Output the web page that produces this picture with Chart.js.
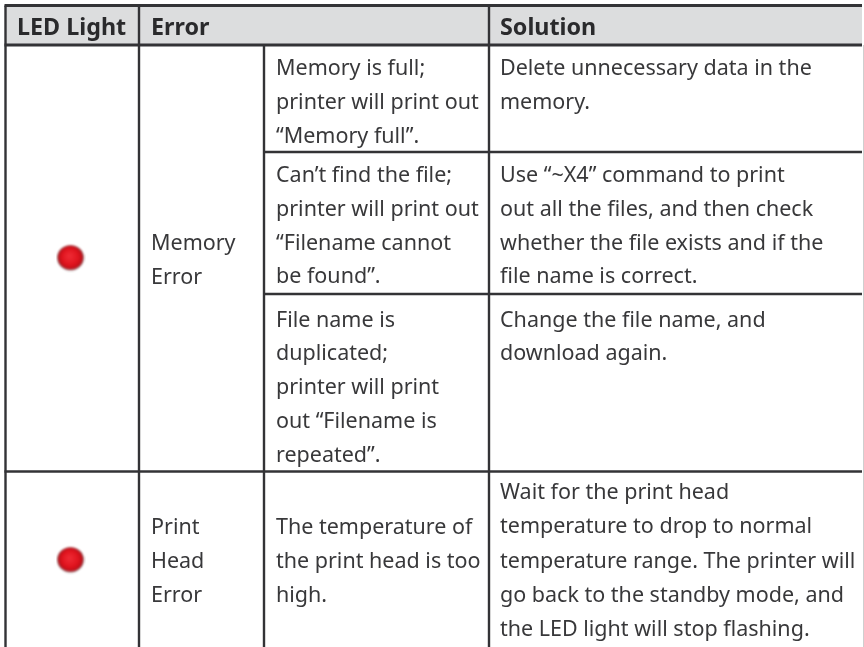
<!DOCTYPE html>
<html><head><meta charset="utf-8">
<style>html,body{margin:0;padding:0;background:#fff;overflow:hidden}#wrap{position:relative;width:864px;height:647px}canvas{display:block}</style>
<script src="https://cdn.jsdelivr.net/npm/chart.js@4"></script></head>
<body><div id="wrap"><canvas id="c" width="864" height="647"></canvas></div>
<script>
const headers = ["LED Light", "Error", "Solution"];
const errorNames = [["Memory", "Error"], ["Print", "Head", "Error"]];
const causes = [
  ["Memory is full;", "printer will print out", "\u201CMemory full\u201D."],
  ["Can\u2019t find the file;", "printer will print out", "\u201CFilename cannot", "be found\u201D."],
  ["File name is", "duplicated;", "printer will print", "out \u201CFilename is", "repeated\u201D."],
  ["The temperature of", "the print head is too", "high."]
];
const solutions = [
  ["Delete unnecessary data in the", "memory."],
  ["Use \u201C~X4\u201D command to print", "out all the files, and then check", "whether the file exists and if the", "file name is correct."],
  ["Change the file name, and", "download again."],
  ["Wait for the print head", "temperature to drop to normal", "temperature range. The printer will", "go back to the standby mode, and", "the LED light will stop flashing."]
];
const ledX = [70.5, 70.5];
const ledY = [257.5, 559.5];
const colX = [5.5, 139, 264, 489];
const rowY = [5.5, 45];
const subRowY = [152, 294];
const lastRowY = 471.5;
const tableRight = 862, tableBottom = 647;
const baseFirst = { error: [250, 534], cause: [75, 182, 326.5, 534], solution: [75, 182, 326.5, 499] };
const headerBase = 35, lineGap = 33.8, wideGap = 34.3;
const textX = { led: 17, error: 151, cause: 276, solution: 500 };

function ledImage() {
  const s = 30, cv = document.createElement('canvas'); cv.width = cv.height = s;
  const g = cv.getContext('2d');
  g.filter = 'blur(0.9px)';
  g.fillStyle = 'rgba(70,50,50,0.5)';
  g.beginPath(); g.ellipse(15, 15.6, 13, 12.4, 0, 0, Math.PI * 2); g.fill();
  const r = g.createRadialGradient(14, 13.5, 1, 15, 15, 13);
  r.addColorStop(0, '#ee2a34'); r.addColorStop(0.6, '#e0141e'); r.addColorStop(0.88, '#c00e18'); r.addColorStop(1, '#8a0c12');
  g.fillStyle = r;
  g.beginPath(); g.ellipse(15, 15, 12.8, 12, 0, 0, Math.PI * 2); g.fill();
  return cv;
}
const seg = (x0, y0, x1, y1, w) => ({
  type: 'line', data: [{ x: x0, y: y0 }, { x: x1, y: y1 }],
  borderColor: '#333336', borderWidth: w, pointRadius: 0, borderCapStyle: 'butt', fill: false, order: 2
});
const datasets = [
  { type: 'line', data: [{ x: tableRight + 1.5, y: rowY[1] }, { x: tableRight + 1.5, y: tableBottom }], borderColor: '#cfcfcf', borderWidth: 1, pointRadius: 0, order: 3 },
  ...colX.map((x, i) => seg(x, i === 2 ? rowY[1] : rowY[0], x, tableBottom, 2.4)),
  seg(colX[0] - 1, rowY[0], tableRight, rowY[0], 2.8),
  seg(colX[0] - 1, rowY[1], tableRight, rowY[1], 2.8),
  ...subRowY.map(y => seg(colX[2], y, tableRight, y, 2.4)),
  seg(colX[0] - 1, lastRowY, tableRight, lastRowY, 2.4),
  { type: 'scatter', data: ledX.map((x, i) => ({ x, y: ledY[i] })), pointStyle: ledImage(), pointRadius: 15, order: 1 }
];
const tablePlugin = {
  id: 'tablePlugin',
  beforeDatasetsDraw(ch) {
    const { ctx, scales: { x, y } } = ch;
    ctx.save();
    ctx.fillStyle = '#dcddde';
    ctx.fillRect(x.getPixelForValue(colX[0]), y.getPixelForValue(rowY[0]), x.getPixelForValue(tableRight) - x.getPixelForValue(colX[0]), y.getPixelForValue(rowY[1]) - y.getPixelForValue(rowY[0]));
    ctx.restore();
  },
  afterDatasetsDraw(ch) {
    const { ctx, scales: { x, y } } = ch;
    const FONT = '"Noto Sans"';
    ctx.save();
    ctx.textBaseline = 'alphabetic'; ctx.textAlign = 'left';
    ctx.fillStyle = '#2a2a2c';
    ctx.font = `bold 23.3px ${FONT}`;
    [textX.led, textX.error, textX.solution].forEach((tx, i) => ctx.fillText(headers[i], x.getPixelForValue(tx), y.getPixelForValue(headerBase)));
    ctx.fillStyle = '#38383a';
    ctx.font = `21.5px ${FONT}`;
    const block = (lines, tx, b, gap) => lines.forEach((l, i) => ctx.fillText(l, x.getPixelForValue(tx), y.getPixelForValue(b + i * gap)));
    errorNames.forEach((l, i) => block(l, textX.error, baseFirst.error[i], lineGap));
    causes.forEach((l, i) => block(l, textX.cause, baseFirst.cause[i], lineGap));
    solutions.forEach((l, i) => block(l, textX.solution, baseFirst.solution[i], i === 3 ? wideGap : lineGap));
    ctx.restore();
  }
};
new Chart(document.getElementById('c'), {
  type: 'scatter',
  data: { datasets },
  plugins: [tablePlugin],
  options: {
    responsive: false, animation: false, events: [],
    layout: { padding: 0, autoPadding: false },
    plugins: { legend: { display: false }, tooltip: { enabled: false }, title: { display: false } },
    scales: {
      x: { type: 'linear', min: 0, max: 864, display: false },
      y: { type: 'linear', min: 0, max: 647, reverse: true, display: false }
    },
    clip: false
  }
});
</script></body></html>
